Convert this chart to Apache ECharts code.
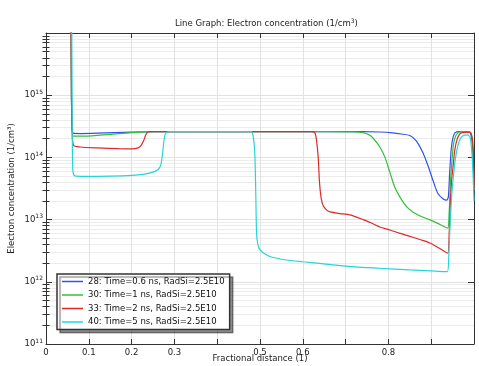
<!DOCTYPE html>
<html><head><meta charset="utf-8">
<script src="https://cdn.jsdelivr.net/npm/echarts@6/dist/echarts.min.js"></script>
<style>html,body{margin:0;padding:0;background:#fff}#c{width:479px;height:366px}</style>
</head><body><div id="c"></div>
<script>
const seriesNames = [
  '28: Time=0.6 ns, RadSi=2.5E10',
  '30: Time=1 ns, RadSi=2.5E10',
  '33: Time=2 ns, RadSi=2.5E10',
  '40: Time=5 ns, RadSi=2.5E10'
];
const seriesColors = ['#2f52ee', '#33bf3a', '#dc2a2a', '#26d6d6'];

const blueData = [[0.058,1e17],[0.0595,1e15],[0.061,3.2e14],[0.0635,2.45e14],[0.08,2.42e14],[0.12,2.45e14],[0.2,2.55e14],[0.3,2.6e14],[0.6,2.6e14],[0.74,2.6e14],[0.78,2.56e14],[0.81,2.48e14],[0.83,2.38e14],[0.85,2.25e14],[0.865,1.85e14],[0.881,1.18e14],[0.893,7.2e13],[0.904,4.3e13],[0.916,2.6e13],[0.928,2.15e13],[0.936,2.05e13],[0.940,2.3e13],[0.943,5.5e13],[0.947,1.4e14],[0.951,2.1e14],[0.956,2.5e14],[0.965,2.6e14],[0.985,2.6e14],[0.992,2.45e14],[0.996,1.6e14],[0.999,6e13],[1.0,3e13]];
const greenData = [[0.058,1e17],[0.0595,1e15],[0.061,3e14],[0.064,2.2e14],[0.09,2.2e14],[0.15,2.35e14],[0.2,2.5e14],[0.25,2.6e14],[0.6,2.6e14],[0.72,2.58e14],[0.741,2.5e14],[0.755,2.3e14],[0.764,2.05e14],[0.78,1.47e14],[0.792,1.0e14],[0.804,5.6e13],[0.815,3.3e13],[0.827,2.3e13],[0.843,1.6e13],[0.857,1.33e13],[0.877,1.12e13],[0.897,9.9e12],[0.915,8.7e12],[0.932,7.6e12],[0.939,7.3e12],[0.942,1.3e13],[0.945,4e13],[0.948,8e13],[0.952,1.6e14],[0.957,2.2e14],[0.963,2.5e14],[0.97,2.6e14],[0.988,2.6e14],[0.994,2.3e14],[0.997,1.5e14],[1.0,3e13]];
const redData = [[0.058,1e17],[0.0595,1e15],[0.061,2.6e14],[0.0645,1.55e14],[0.08,1.47e14],[0.12,1.42e14],[0.17,1.38e14],[0.2,1.37e14],[0.215,1.42e14],[0.222,1.55e14],[0.228,1.85e14],[0.233,2.3e14],[0.238,2.55e14],[0.245,2.6e14],[0.62,2.6e14],[0.628,2.5e14],[0.632,1.9e14],[0.636,1.0e14],[0.639,4e13],[0.643,2.2e13],[0.648,1.65e13],[0.656,1.42e13],[0.664,1.33e13],[0.687,1.25e13],[0.71,1.19e13],[0.741,1.0e13],[0.76,8.8e12],[0.78,7.6e12],[0.804,6.8e12],[0.827,6.0e12],[0.857,5.2e12],[0.877,4.7e12],[0.897,4.2e12],[0.915,3.6e12],[0.932,3.05e12],[0.939,2.9e12],[0.942,6e12],[0.945,2e13],[0.948,4.5e13],[0.951,7e13],[0.955,1.3e14],[0.96,1.9e14],[0.966,2.35e14],[0.972,2.5e14],[0.99,2.55e14],[0.995,2.2e14],[0.998,1.4e14],[1.0,3e13]];
const cyanData = [[0.0595,1e17],[0.061,1e15],[0.0615,2e14],[0.0625,6.5e13],[0.065,5.2e13],[0.07,5e13],[0.1,4.95e13],[0.15,5e13],[0.2,5.15e13],[0.23,5.4e13],[0.25,5.8e13],[0.262,6.4e13],[0.268,7.5e13],[0.272,1.1e14],[0.275,1.7e14],[0.278,2.3e14],[0.283,2.55e14],[0.29,2.6e14],[0.478,2.6e14],[0.482,2.5e14],[0.485,2.0e14],[0.488,1.1e14],[0.49,3e13],[0.492,6e12],[0.495,4.0e12],[0.5,3.25e12],[0.51,2.85e12],[0.523,2.55e12],[0.562,2.24e12],[0.6,2.1e12],[0.64,1.98e12],[0.687,1.82e12],[0.73,1.72e12],[0.78,1.65e12],[0.85,1.55e12],[0.9,1.5e12],[0.928,1.46e12],[0.938,1.46e12],[0.941,2.5e12],[0.944,8e12],[0.948,2.5e13],[0.952,5e13],[0.956,9e13],[0.962,1.5e14],[0.968,2e14],[0.975,2.25e14],[0.985,2.3e14],[0.991,2.1e14],[0.995,1.2e14],[0.998,5e13],[1.0,2e13]];

const xTickLabels = ['0','0.1','0.2','0.3','','0.5','0.6','','0.8','',''];
const yHiddenExps = [16];
const minorTickExps = [];
for (let n = 11; n < 16; n++) for (let k = 2; k <= 9; k++) minorTickExps.push(n + Math.log10(k));

const FONT = 'DejaVu Sans';
const axisColor = '#333';

const chart = echarts.init(document.getElementById('c'), null, {renderer: 'canvas'});
chart.setOption({
  animation: false,
  backgroundColor: '#fff',
  textStyle: {fontFamily: FONT},
  title: {
    text: 'Line Graph: Electron concentration (1/cm{s|3})',
    left: 170, top: 13,
    textStyle: {fontSize: 8.5, fontWeight: 'normal', color: '#222', fontFamily: FONT,
      rich: {s: {fontSize: 6, verticalAlign: 'top', padding: [0,0,5,0], color: '#222'}}}
  },
  grid: {left: 46, right: 5, top: 33, bottom: 22, containLabel: false, outerBoundsMode: 'none'},
  legend: {
    orient: 'vertical', left: 57, top: 274,
    icon: 'rect', itemWidth: 21, itemHeight: 1.5, itemGap: 4.5,
    padding: [3, 5, 3, 5],
    backgroundColor: '#fff', borderColor: '#333', borderWidth: 1.5,
    shadowColor: 'rgba(0,0,0,0.4)', shadowOffsetX: 3, shadowOffsetY: 3, shadowBlur: 1,
    textStyle: {fontSize: 8.5, color: '#111', fontFamily: FONT},
    data: seriesNames
  },
  xAxis: [
    {type: 'value', min: 0, max: 1, interval: 0.1, position: 'bottom',
     axisLine: {show: true, onZero: false, lineStyle: {color: axisColor, width: 1}},
     axisTick: {show: true, inside: true, length: 5, lineStyle: {color: axisColor}},
     axisLabel: {color: '#222', fontSize: 8.5, margin: 4, fontFamily: FONT,
       formatter: v => xTickLabels[Math.round(v * 10)]},
     splitLine: {show: true, lineStyle: {color: '#e2e2e2', width: 1}},
     name: 'Fractional distance (1)', nameLocation: 'middle', nameGap: 10, nameMoveOverlap: false,
     nameTextStyle: {fontSize: 8.5, color: '#222', fontFamily: FONT}},
    {type: 'value', min: 0, max: 1, interval: 0.1, position: 'top',
     axisLine: {show: true, onZero: false, lineStyle: {color: axisColor, width: 1}},
     axisTick: {show: true, inside: true, length: 5, lineStyle: {color: axisColor}},
     axisLabel: {show: false}, splitLine: {show: false}}
  ],
  yAxis: [
    {type: 'log', min: 1e11, max: 1e16, logBase: 10, splitNumber: 5, position: 'left',
     axisLine: {show: true, onZero: false, lineStyle: {color: axisColor, width: 1}},
     axisTick: {show: true, inside: true, length: 6, lineStyle: {color: axisColor}},
     axisLabel: {color: '#222', fontSize: 8.5, margin: 3, fontFamily: FONT,
       formatter: v => { const e = Math.round(Math.log10(v)); return yHiddenExps.includes(e) ? '' : '10{s|' + e + '}'; },
       rich: {s: {fontSize: 6, verticalAlign: 'top', padding: [0,0,6,0], color: '#222', fontFamily: FONT}}},
     splitLine: {show: true, lineStyle: {color: '#e2e2e2', width: 1}},
     name: 'Electron concentration (1/cm³)', nameLocation: 'middle', nameGap: 30, nameMoveOverlap: false,
     nameTextStyle: {fontSize: 8.5, color: '#222', fontFamily: FONT}},
    {type: 'value', min: 11, max: 16, position: 'left',
     axisLine: {show: false},
     axisTick: {show: true, inside: true, length: 3.5, customValues: minorTickExps, lineStyle: {color: axisColor}},
     axisLabel: {show: false, customValues: minorTickExps},
     splitLine: {show: true, lineStyle: {color: '#ececec', width: 1}}},
    {type: 'log', min: 1e11, max: 1e16, logBase: 10, splitNumber: 5, position: 'right',
     axisLine: {show: true, onZero: false, lineStyle: {color: axisColor, width: 1}},
     axisTick: {show: true, inside: true, length: 6, lineStyle: {color: axisColor}},
     axisLabel: {show: false}, splitLine: {show: false}},
    {type: 'value', min: 11, max: 16, position: 'right',
     axisLine: {show: false},
     axisTick: {show: true, inside: true, length: 3.5, customValues: minorTickExps, lineStyle: {color: axisColor}},
     axisLabel: {show: false, customValues: minorTickExps}, splitLine: {show: false}}
  ],
  series: [blueData, greenData, redData, cyanData].map((d, i) => ({
    name: seriesNames[i], type: 'line', xAxisIndex: 0, yAxisIndex: 0,
    data: d, showSymbol: false, symbol: 'none', smooth: 0.25,
    lineStyle: {color: seriesColors[i], width: 1.2}, itemStyle: {color: seriesColors[i]},
    clip: true, z: 3
  }))
});
</script></body></html>
